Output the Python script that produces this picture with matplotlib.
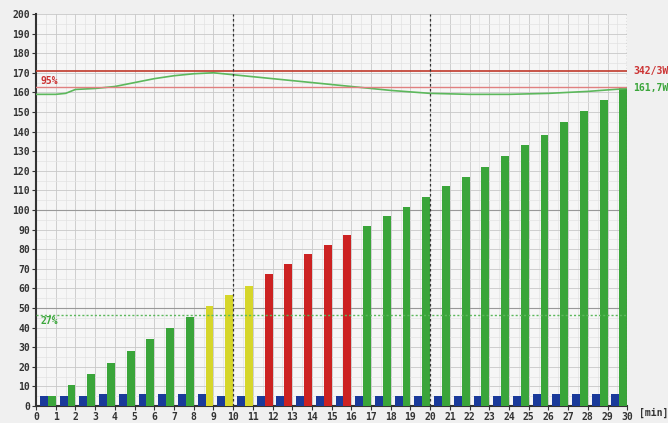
import matplotlib
matplotlib.use("Agg")
import matplotlib.pyplot as plt
import numpy as np

minutes = list(range(1, 31))
main_values = [5, 11, 16.5, 22, 28, 34, 40, 45.5, 51, 56.5, 61.5, 67.5, 72.5, 77.5, 82,
               87.5, 92, 97, 101.5, 106.5, 112, 117, 122, 127.5, 133, 138.5, 145, 150.5, 156, 162]
base_values = [5, 5, 5, 6, 6, 6, 6, 6, 6, 5, 5, 5, 5, 5, 5,
               5, 5, 5, 5, 5, 5, 5, 5, 5, 5, 6, 6, 6, 6, 6]
bar_colors = (["#3aa53a"] * 8 + ["#d6d62a"] * 3 + ["#cc2222"] * 5 + ["#3aa53a"] * 14)

line_x = [0, 1, 1.5, 2, 3, 4, 5, 6, 7, 8, 9, 10, 12, 14, 16, 18, 20, 22, 24, 26, 28, 30]
line_y = [159, 159, 159.5, 161.5, 162, 163, 165, 167, 168.5, 169.5, 170, 169, 167, 165,
          163, 161, 159.5, 159, 159, 159.5, 160.5, 162]

upper_limit = 171
pct95_level = 163
pct27_level = 46.5

fig = plt.figure(figsize=(6.68, 4.23), dpi=100, facecolor="#f0f0f0")
ax = fig.add_axes([0.054, 0.040, 0.885, 0.927])
ax.set_facecolor("#f6f6f6")

xs = np.array(minutes)
ax.bar(xs - 0.6, base_values, width=0.4, color="#1a3a9a", zorder=3)
ax.bar(xs - 0.2, main_values, width=0.4, color=bar_colors, zorder=3)

ax.plot(line_x, line_y, color="#5cb85c", lw=1.2, zorder=4)
ax.axhline(upper_limit, color="#c0392b", lw=1.2, zorder=4)
ax.axhline(pct95_level, color="#e08080", lw=1.0, zorder=4)
ax.axhline(pct27_level, color="#5cb85c", lw=1.0, ls=(0, (1.5, 1.5)), zorder=4)
ax.axhline(50, color="#999999", lw=0.8, zorder=2)
ax.axhline(100, color="#999999", lw=0.8, zorder=2)
for xv in (10, 20):
    ax.axvline(xv, color="#333333", lw=0.9, ls=(0, (2, 2)), zorder=4)
ax.axvline(30, color="#555555", lw=0.9, ls=(0, (1, 1.5)), zorder=4)

ax.set_xlim(0, 30)
ax.set_ylim(0, 200)
ax.set_xticks(range(0, 31))
ax.set_yticks(range(0, 201, 10))
ax.set_yticks(range(0, 201, 5), minor=True)
ax.set_xticks(np.arange(0, 30.01, 0.5), minor=True)
ax.grid(which="major", color="#c8c8c8", lw=0.6, zorder=0)
ax.grid(which="minor", color="#e2e2e2", lw=0.5, zorder=0)
ax.set_axisbelow(True)

fp = dict(family="DejaVu Sans Mono", fontweight="bold", fontsize=7)
for lbl in ax.get_xticklabels() + ax.get_yticklabels():
    lbl.set_fontfamily("DejaVu Sans Mono")
    lbl.set_fontweight("bold")
    lbl.set_fontsize(7)
    lbl.set_color("#333333")
ax.tick_params(which="major", length=3, pad=1.5, color="#333333")
ax.tick_params(which="minor", length=0)
for s in ("top", "right"):
    ax.spines[s].set_visible(False)
ax.spines["left"].set_color("#333333")
ax.spines["bottom"].set_color("#333333")
ax.spines["left"].set_linewidth(1.5)
ax.spines["bottom"].set_linewidth(1.5)

ax.text(0.2, 164.5, "95%", color="#cc3333", **fp)
ax.text(0.2, 42, "27%", color="#3aa53a", **fp)
ax.text(30.3, upper_limit, "342/3W", color="#cc3333", va="center", clip_on=False, **fp)
ax.text(30.3, 162, "161,7W", color="#3aa53a", va="center", clip_on=False, **fp)
ax.text(30.6, -3.5, "[min]", color="#333333", va="center", clip_on=False, **fp)

fig.savefig("out.png", dpi=100, facecolor=fig.get_facecolor())
